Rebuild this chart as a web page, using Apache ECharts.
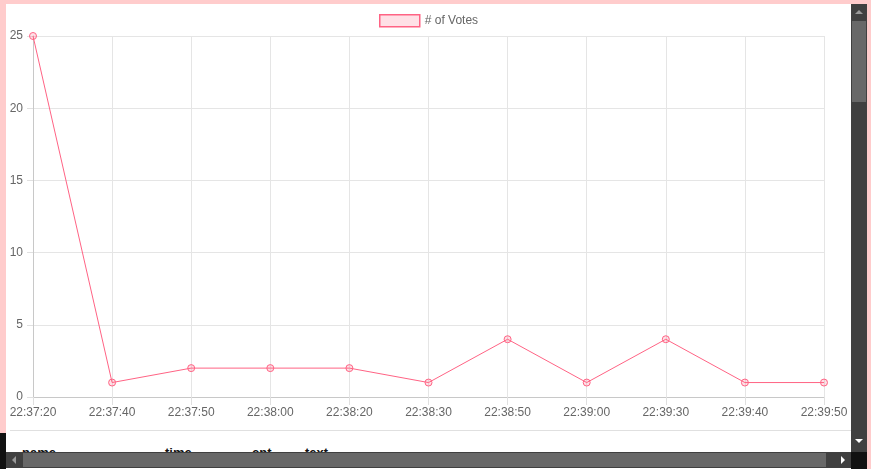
<!DOCTYPE html>
<html>
<head>
<meta charset="utf-8">
<script src="https://cdn.jsdelivr.net/npm/echarts@6/dist/echarts.min.js"></script>
<style>
html,body{margin:0;padding:0;width:871px;height:469px;overflow:hidden;background:#ffcccc;font-family:Arial,"Liberation Sans",sans-serif;}
#panel{position:absolute;left:6px;top:4px;width:845px;height:465px;background:#fff;}
#hr{position:absolute;left:10px;top:430px;width:841px;height:1px;background:#e0e0e0;}
.th{position:absolute;top:445px;font-size:13px;font-weight:bold;color:#111;}
#chart{position:absolute;left:0;top:0;width:871px;height:469px;}
#vscroll{position:absolute;left:851px;top:4px;width:16px;height:448px;background:#404040;}
#vthumb{position:absolute;left:852px;top:21px;width:14px;height:81px;background:#686868;}
#hscroll{position:absolute;left:6px;top:452px;width:845px;height:16px;background:#404040;}
#hthumb{position:absolute;left:23px;top:453px;width:803px;height:14px;background:#686868;}
#corner{position:absolute;left:851px;top:452px;width:16px;height:17px;background:#111;}
#blk{position:absolute;left:0;top:433px;width:6px;height:36px;background:#111;}
.arr{position:absolute;width:0;height:0;}
</style>
</head>
<body>
<div id="panel"></div>
<div id="hr"></div>
<div class="th" style="left:22px">name</div>
<div class="th" style="left:165px">time</div>
<div class="th" style="left:252px">cnt</div>
<div class="th" style="left:305px">text</div>
<div id="chart"></div>
<div id="blk"></div>
<div id="vscroll"></div>
<div id="vthumb"></div>
<div id="hscroll"></div>
<div id="hthumb"></div>
<div id="corner"></div>
<div class="arr" style="left:855px;top:10px;border-left:4px solid transparent;border-right:4px solid transparent;border-bottom:4px solid #999;"></div>
<div class="arr" style="left:855px;top:439px;border-left:4px solid transparent;border-right:4px solid transparent;border-top:4px solid #fff;"></div>
<div class="arr" style="left:12px;top:456px;border-top:4px solid transparent;border-bottom:4px solid transparent;border-right:4px solid #999;"></div>
<div class="arr" style="left:841px;top:456px;border-top:4px solid transparent;border-bottom:4px solid transparent;border-left:4px solid #fff;"></div>
<script>
var categories = ["22:37:20","22:37:40","22:37:50","22:38:00","22:38:20","22:38:30","22:38:50","22:39:00","22:39:30","22:39:40","22:39:50"];
var votes = [25,1,2,2,2,1,4,1,4,1,1];
var seriesName = "# of Votes";

var chart = echarts.init(document.getElementById('chart'), null, {renderer:'canvas'});
chart.setOption({
  backgroundColor:'transparent',
  animation:false,
  textStyle:{fontFamily:'Arial, "Liberation Sans", sans-serif'},
  legend:{
    left:374, top:9,
    itemWidth:40, itemHeight:12, itemGap:5,
    textStyle:{color:'#666', fontSize:12},
    data:[{name:seriesName, icon:'rect', itemStyle:{color:'rgba(255,99,132,0.2)', borderColor:'rgb(255,99,132)', borderWidth:1.5}}]
  },
  grid:{left:33, right:47, top:36, bottom:72, containLabel:false},
  xAxis:{
    type:'category', data:categories, boundaryGap:false,
    axisLine:{lineStyle:{color:'#c8c8c8'}},
    axisTick:{show:true, length:8, lineStyle:{color:'#e0e0e0'}},
    axisLabel:{color:'#666', fontSize:12, margin:10, interval:0},
    splitLine:{show:true, lineStyle:{color:'#e5e5e5'}}
  },
  yAxis:{
    type:'value', min:0, max:25, interval:5,
    axisLine:{show:true, lineStyle:{color:'#c8c8c8'}},
    axisTick:{show:true, length:6, lineStyle:{color:'#e0e0e0'}},
    axisLabel:{color:'#666', fontSize:12, margin:10},
    splitLine:{show:true, lineStyle:{color:'#e5e5e5'}}
  },
  series:[{
    name:seriesName, type:'line', data:votes,
    symbol:'circle', symbolSize:7, showAllSymbol:true,
    lineStyle:{color:'rgb(255,99,132)', width:1},
    itemStyle:{color:'rgba(255,99,132,0.2)', borderColor:'rgb(255,99,132)', borderWidth:1}
  }]
});
</script>
</body>
</html>
